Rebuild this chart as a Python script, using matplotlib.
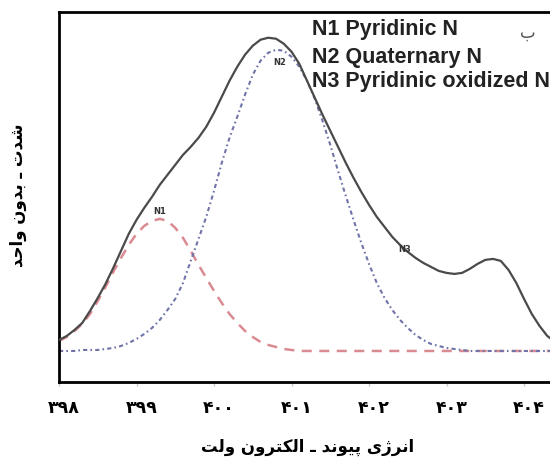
import numpy as np
import matplotlib.pyplot as plt
import matplotlib.transforms as mtransforms

# -- data (height above baseline, arbitrary units) --
energy = np.linspace(398.0, 404.8, 69)

total = [11, 15, 21, 28, 40, 53, 67, 83, 100, 117,
         131, 143, 154, 166, 176, 186, 196, 204, 213, 224,
         238, 254, 270, 284, 296, 305, 311, 313, 312, 307,
         299, 287, 270, 253, 236, 220, 204, 188, 173, 159,
         146, 134, 124, 114, 106, 99, 93, 88, 84, 80,
         78, 77, 78, 82, 87, 91, 92, 90, 81, 68,
         52, 37, 25, 15, 9, 6, 4, 3, 2]

n1_pyridinic = [10, 14, 20, 27, 37, 50, 64, 79, 93, 106,
                117, 125, 130, 132, 130, 123, 113, 100, 86, 73,
                60, 48, 37, 28, 20, 14, 9, 6, 4, 2,
                1] + [0] * 38

n2_quaternary = [0, 0, 0, 1, 1, 1, 2, 3, 5, 8,
                 12, 17, 23, 31, 41, 52, 68, 90, 112, 134,
                 160, 188, 213, 234, 256, 276, 290, 298, 301, 300,
                 294, 284, 270, 252, 230, 206, 180, 155, 131, 108,
                 87, 68, 53, 41, 31, 23, 16, 11, 7, 5,
                 3, 2, 1] + [0] * 16

tick_values = [398, 399, 400, 401, 402, 403, 404]
legend_lines = ['N1 Pyridinic N', 'N2 Quaternary N', 'N3 Pyridinic oxidized N']
peak_names = ['N1', 'N2', 'N3']
xlabel_fa = 'انرژی پیوند ـ الکترون ولت'
ylabel_fa = 'شدت ـ بدون واحد'
panel_fa = 'ب'

# -- tiny persian shaper (matplotlib has no arabic shaping / bidi) --
FORMS = {
    'ا': ('\uFE8D', '\uFE8E', None, None),
    'ب': ('\uFE8F', '\uFE90', '\uFE91', '\uFE92'),
    'پ': ('\uFB56', '\uFB57', '\uFB58', '\uFB59'),
    'ت': ('\uFE95', '\uFE96', '\uFE97', '\uFE98'),
    'ح': ('\uFEA1', '\uFEA2', '\uFEA3', '\uFEA4'),
    'د': ('\uFEA9', '\uFEAA', None, None),
    'ر': ('\uFEAD', '\uFEAE', None, None),
    'ژ': ('\uFB8A', '\uFB8B', None, None),
    'ش': ('\uFEB5', '\uFEB6', '\uFEB7', '\uFEB8'),
    'ک': ('\uFB8E', '\uFB8F', '\uFB90', '\uFB91'),
    'ل': ('\uFEDD', '\uFEDE', '\uFEDF', '\uFEE0'),
    'ن': ('\uFEE5', '\uFEE6', '\uFEE7', '\uFEE8'),
    'و': ('\uFEED', '\uFEEE', None, None),
    'ی': ('\uFBFC', '\uFBFD', '\uFBFE', '\uFBFF'),
}


def shape(s):
    out = []
    for i, c in enumerate(s):
        if c not in FORMS:
            out.append(c)
            continue
        prev = s[i - 1] if i > 0 else ''
        nxt = s[i + 1] if i + 1 < len(s) else ''
        jp = prev in FORMS and FORMS[prev][2] is not None
        jn = FORMS[c][2] is not None and nxt in FORMS
        iso, fin, ini, med = FORMS[c]
        if jp and jn:
            out.append(med)
        elif jp:
            out.append(fin)
        elif jn:
            out.append(ini)
        else:
            out.append(iso)
    return ''.join(reversed(out))


def fa_digits(n):
    return str(n).translate(str.maketrans('0123456789', '۰۱۲۳۴۵۶۷۸۹'))


plt.rcParams['font.family'] = ['DejaVu Sans']

fig = plt.figure(figsize=(5.5, 4.59), dpi=100)
ax = fig.add_axes([59 / 550, 77 / 459, 491 / 550, 370.3 / 459])

ax.plot(energy, total, color='#4a4a4a', lw=1.6, zorder=3)
ax.plot(energy, n1_pyridinic, color='#d98b91', lw=1.8, ls=(0, (4, 3)))
ax.plot(energy, n2_quaternary, color='#6f73a8', lw=1.5, ls=(0, (2, 1.5, 0.8, 1.5)))

ax.set_xlim(398, 404.335)
ax.set_ylim(-31, 339)
ax.set_yticks([])
ax.set_xticks(tick_values)
ax.set_xticklabels([fa_digits(v) for v in tick_values], fontsize=12.5, fontweight='bold')
ax.tick_params(axis='x', length=3, width=1, color='#c8c8c8', pad=9)
offset = mtransforms.ScaledTranslation(5 / 100, 0, fig.dpi_scale_trans)
for lab in ax.get_xticklabels():
    lab.set_transform(lab.get_transform() + offset)

for side in ['top', 'left', 'bottom']:
    ax.spines[side].set_linewidth(2)
    ax.spines[side].set_color('black')
ax.spines['right'].set_visible(False)

# small peak tags
ax.text(399.30, 139, peak_names[0], fontsize=6, fontweight='bold', color='#333', ha='center', va='center')
ax.text(400.85, 288, peak_names[1], fontsize=6, fontweight='bold', color='#333', ha='center', va='center')
ax.text(402.46, 101, peak_names[2], fontsize=6, fontweight='bold', color='#333', ha='center', va='center')

# legend-like text block
legend_y = [30, 57, 81]
for line, yp in zip(legend_lines, legend_y):
    fig.text(312 / 550, 1 - yp / 459, line, family='Liberation Sans',
             fontsize=15.5, fontweight='bold', color='#222222', va='center', ha='left')
fig.text(528 / 550, 1 - 33 / 459, shape(panel_fa), fontsize=12, color='#555555',
         ha='center', va='center')

fig.text(308 / 550, 1 - 447 / 459, shape(xlabel_fa), fontsize=12, fontweight='bold',
         ha='center', va='center')
fig.text(18 / 550, 1 - 195 / 459, shape(ylabel_fa), fontsize=12, fontweight='bold',
         ha='center', va='center', rotation=90)

fig.savefig('out.png', dpi=100)
